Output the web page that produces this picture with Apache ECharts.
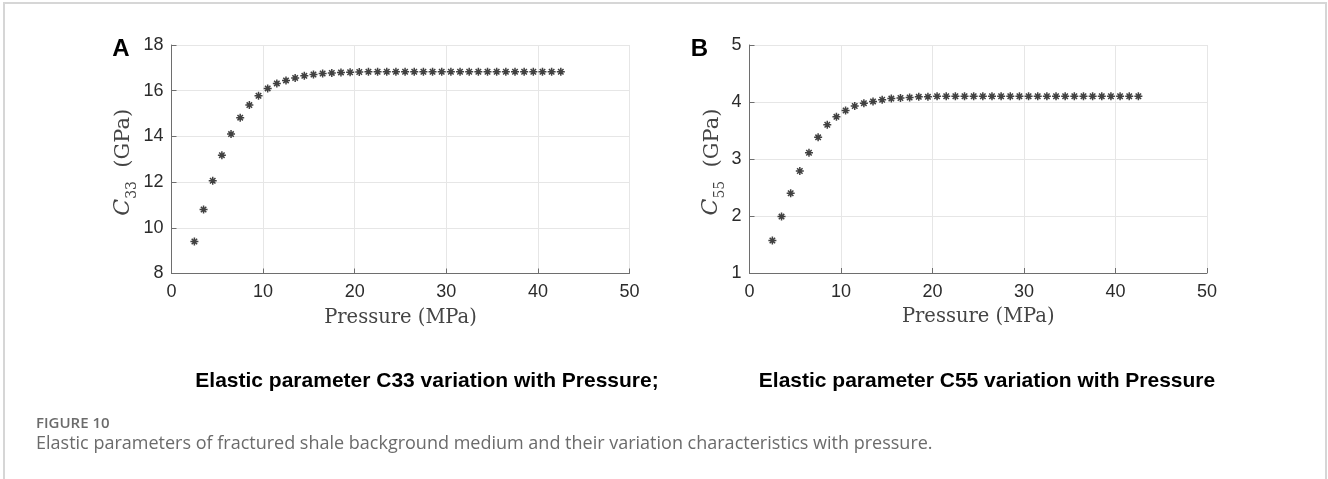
<!DOCTYPE html>
<html>
<head>
<meta charset="utf-8">
<script src="https://cdn.jsdelivr.net/npm/echarts@6/dist/echarts.min.js"></script>
<style>
html,body{margin:0;padding:0;background:#fff;}
#chart{width:1328px;height:479px;}
</style>
</head>
<body>
<div id="chart"></div>
<script>
// ---- data ----
const pressure = [2.5,3.5,4.5,5.5,6.5,7.5,8.5,9.5,10.5,11.5,12.5,13.5,14.5,15.5,16.5,17.5,18.5,19.5,20.5,21.5,
  22.5,23.5,24.5,25.5,26.5,27.5,28.5,29.5,30.5,31.5,32.5,33.5,34.5,35.5,36.5,37.5,38.5,39.5,40.5,41.5,42.5];
const c33 = [9.40,10.80,12.06,13.18,14.10,14.82,15.37,15.78,16.10,16.32,16.45,16.56,16.65,16.71,16.75,16.78,16.80,16.81,16.82,16.83,
  16.83,16.83,16.83,16.83,16.83,16.83,16.83,16.83,16.83,16.83,16.83,16.83,16.83,16.83,16.83,16.83,16.83,16.83,16.83,16.83,16.83];
const c55 = [1.57,1.99,2.40,2.79,3.11,3.38,3.60,3.74,3.85,3.93,3.98,4.01,4.04,4.06,4.07,4.08,4.09,4.09,4.10,4.10,
  4.10,4.10,4.10,4.10,4.10,4.10,4.10,4.10,4.10,4.10,4.10,4.10,4.10,4.10,4.10,4.10,4.10,4.10,4.10,4.10,4.10];
const xTicks = [0,10,20,30,40,50];
const yTicksA = [8,10,12,14,16,18];
const yTicksB = [1,2,3,4,5];
const panelLabels = ['A','B'];
const subTitles = ['Elastic parameter C33 variation with Pressure;','Elastic parameter C55 variation with Pressure'];
const figLabel = 'FIGURE 10';
const figCaption = 'Elastic parameters of fractured shale background medium and their variation characteristics with pressure.';

const chart = echarts.init(document.getElementById('chart'), null, {renderer:'canvas'});
const star = 'path://M5,0L5,10M0,5L10,5M1.6,1.6L8.4,8.4M8.4,1.6L1.6,8.4';
const tickFont = {fontFamily:'Liberation Sans', fontSize:18, color:'#2b2b2b'};
const axisLineColor = '#6e6e6e';
const gridColor = '#e6e6e6';
const nameColor = '#444';

function xAxis(gi){
  return {
    type:'value', gridIndex:gi, min:xTicks[0], max:xTicks[xTicks.length-1], interval:10,
    axisLine:{show:true, lineStyle:{color:axisLineColor, width:1}},
    axisTick:{show:true, inside:true, length:5, lineStyle:{color:axisLineColor}},
    axisLabel:Object.assign({margin:10}, tickFont),
    splitLine:{show:true, lineStyle:{color:gridColor, width:1}},
    name:'Pressure (MPa)', nameLocation:'middle', nameGap:34,
    nameTextStyle:{fontFamily:'DejaVu Serif', fontSize:19.5, color:nameColor}
  };
}
function yAxis(gi, ticks, sub, gap){
  return {
    type:'value', gridIndex:gi, min:ticks[0], max:ticks[ticks.length-1], interval:ticks[1]-ticks[0],
    axisLine:{show:true, lineStyle:{color:axisLineColor, width:1}},
    axisTick:{show:true, inside:true, length:5, lineStyle:{color:axisLineColor}},
    axisLabel:Object.assign({margin:8}, tickFont),
    splitLine:{show:true, lineStyle:{color:gridColor, width:1}},
    name:'{c|C}{s|' + sub + '}{n|  (GPa)}', nameLocation:'middle', nameGap:gap, nameRotate:90,
    nameTextStyle:{
      fontFamily:'DejaVu Serif', fontSize:21, color:nameColor, padding:[0,6,0,0],
      rich:{
        c:{fontFamily:'DejaVu Serif', fontStyle:'italic', fontSize:22, color:nameColor, verticalAlign:'bottom'},
        s:{fontFamily:'DejaVu Serif', fontSize:14, color:nameColor, verticalAlign:'bottom', padding:[0,0,-5,0]},
        n:{fontFamily:'DejaVu Serif', fontSize:21, color:nameColor, verticalAlign:'bottom'}
      }
    }
  };
}
function scatter(gi, vals){
  return {
    type:'scatter', xAxisIndex:gi, yAxisIndex:gi,
    data: pressure.map((p,i)=>[p, vals[i]]),
    symbol:star, symbolSize:8,
    itemStyle:{color:'transparent', borderColor:'#111', borderWidth:1.5},
    emphasis:{disabled:true}, silent:true
  };
}

chart.setOption({
  animation:false,
  backgroundColor:'#fff',
  grid:[
    {left:171.5, right:1328-629.5, top:45, bottom:479-273.5},
    {left:749.5, right:1328-1207, top:45, bottom:479-273}
  ],
  xAxis:[xAxis(0), xAxis(1)],
  yAxis:[yAxis(0, yTicksA, '33', 37), yAxis(1, yTicksB, '55', 24)],
  series:[scatter(0, c33), scatter(1, c55)],
  graphic:[
    {type:'polyline', silent:true, shape:{points:[[4,479],[4,3],[1326,3],[1326,479]]},
     style:{stroke:'#d6d6d6', lineWidth:2, fill:null}},
    {type:'text', x:121, y:49, style:{text:panelLabels[0], font:'bold 24px "Liberation Sans"', fill:'#000', textAlign:'center', textVerticalAlign:'middle'}},
    {type:'text', x:699.5, y:49, style:{text:panelLabels[1], font:'bold 24px "Liberation Sans"', fill:'#000', textAlign:'center', textVerticalAlign:'middle'}},
    {type:'text', x:427, y:381, style:{text:subTitles[0], font:'bold 21px "Liberation Sans"', fill:'#000', textAlign:'center', textVerticalAlign:'middle'}},
    {type:'text', x:987, y:381, style:{text:subTitles[1], font:'bold 21px "Liberation Sans"', fill:'#000', textAlign:'center', textVerticalAlign:'middle'}},
    {type:'text', x:36, y:424, style:{text:figLabel, font:'600 15px "Open Sans"', fill:'#6b6b6b', textAlign:'left', textVerticalAlign:'middle'}},
    {type:'text', x:36, y:444, style:{text:figCaption, font:'18px "Open Sans"', fill:'#6b6b6b', textAlign:'left', textVerticalAlign:'middle'}}
  ]
});
</script>
</body>
</html>
